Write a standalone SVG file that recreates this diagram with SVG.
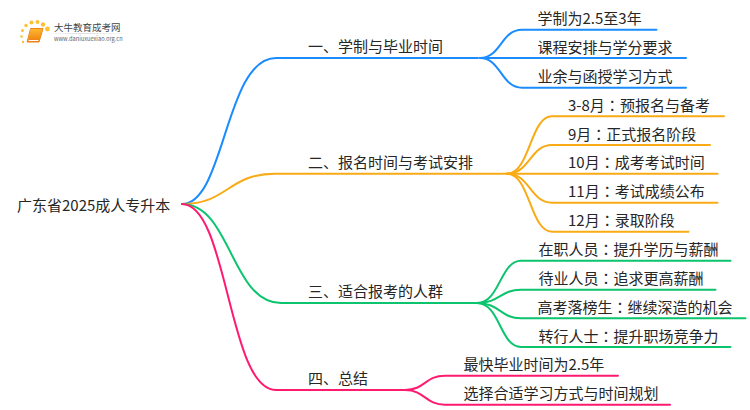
<svg xmlns="http://www.w3.org/2000/svg" width="750" height="410" viewBox="0 0 750 410">
<defs>
<linearGradient id="book" x1="0" y1="0" x2="0" y2="1"><stop offset="0" stop-color="#fdb92e"/><stop offset="1" stop-color="#ee7d10"/></linearGradient>
<linearGradient id="rule" x1="0" y1="0" x2="1" y2="0"><stop offset="0" stop-color="#ddd" stop-opacity="0"/><stop offset=".4" stop-color="#ddd"/><stop offset="1" stop-color="#ddd" stop-opacity="0"/></linearGradient>
</defs>
<style>
text{font-family:"Noto Sans CJK SC","Noto Sans",sans-serif;font-size:15px;fill:#262626}
tspan{font-family:"Noto Sans CJK TC",sans-serif}
path{fill:none;stroke-width:2;stroke-linecap:round}
.b{stroke:#1a8cff}.o{stroke:#f9ab15}.g{stroke:#0cc46e}.p{stroke:#ff1a70}
.dot{fill:#fcc232}
</style>
<rect width="750" height="410" fill="#fff"/>
<g id="logo">
<circle class="dot" cx="23" cy="42" r="1.2"/><circle class="dot" cx="21.500" cy="36.500" r="1.300"/><circle class="dot" cx="22.500" cy="30.500" r="1.500"/><circle class="dot" cx="26" cy="25.500" r="1.700"/><circle class="dot" cx="31.500" cy="22.500" r="2"/><circle class="dot" cx="37.500" cy="22" r="2"/><circle class="dot" cx="43" cy="24.500" r="2.200"/><circle class="dot" cx="47.500" cy="29" r="2.400"/>
<path d="M31 28.500H43L39 42H27.500Z" style="fill:url(#book);stroke:#ee8412;stroke-width:1"/>
<path d="M29 40.500H38" style="stroke:#fff;stroke-width:1"/>
<rect x="45" y="33" width="88" height="1" fill="url(#rule)"/>
<text x="54" y="31" style="font-size:9.500px;fill:#444">大牛教育成考网</text>
<text x="54" y="41" style="font-size:5.700px;fill:#666">www.daniuxuexiao.org.cn</text>
</g>
<g id="connectors">
<path class="b" d="M182 204C225 204 225 58 276 58H478"/>
<path class="o" d="M182 204C228 204 228 173.700 275 173.700H507"/>
<path class="g" d="M182 204C231 204 231 303 281 303H477"/>
<path class="p" d="M182 204C228 204 228 390 276 390H405"/>
<path class="b" d="M480 58C501 58 501 29.700 522 29.700H656.500"/>
<path class="b" d="M480 58H686"/>
<path class="b" d="M480 58C501 58 501 87.700 522 87.700H686"/>
<path class="o" d="M507 173.700C530 173.700 530 116.300 552 116.300H724"/>
<path class="o" d="M507 173.700C530 173.700 530 145 552 145H710"/>
<path class="o" d="M507 173.700H717.500"/>
<path class="o" d="M507 173.700C530 173.700 530 202.700 552 202.700H717.500"/>
<path class="o" d="M507 173.700C530 173.700 530 231.700 552 231.700H688.500"/>
<path class="g" d="M477 303C500 303 500 260.700 521 260.700H730.500"/>
<path class="g" d="M477 303C500 303 500 289.700 521 289.700H715.500"/>
<path class="g" d="M477 303C500 303 500 318.300 521 318.300H745.500"/>
<path class="g" d="M477 303C500 303 500 347 521 347H730.500"/>
<path class="p" d="M405 390C425 390 425 375.700 445 375.700H618"/>
<path class="p" d="M405 390C425 390 425 404.700 445 404.700H670"/>
</g>
<g id="root"><text x="17" y="211">广东省2025成人专升本</text></g>
<g id="n1"><text x="308" y="52">一、学制与毕业时间</text></g>
<g id="n2"><text x="308" y="168">二、报名时间与考试安排</text></g>
<g id="n3"><text x="308" y="297">三、适合报考的人群</text></g>
<g id="n4"><text x="308" y="384">四、总结</text></g>
<g id="n1-1"><text x="537.500" y="24">学制为2.5至3年</text></g>
<g id="n1-2"><text x="537.500" y="53">课程安排与学分要求</text></g>
<g id="n1-3"><text x="537.500" y="82">业余与函授学习方式</text></g>
<g id="n2-1"><text x="568" y="111">3-8月<tspan>：</tspan>预报名与备考</text></g>
<g id="n2-2"><text x="568" y="140">9月<tspan>：</tspan>正式报名阶段</text></g>
<g id="n2-3"><text x="568" y="168">10月<tspan>：</tspan>成考考试时间</text></g>
<g id="n2-4"><text x="568" y="197">11月<tspan>：</tspan>考试成绩公布</text></g>
<g id="n2-5"><text x="568" y="226">12月<tspan>：</tspan>录取阶段</text></g>
<g id="n3-1"><text x="538.500" y="255">在职人员<tspan>：</tspan>提升学历与薪酬</text></g>
<g id="n3-2"><text x="538.500" y="284">待业人员<tspan>：</tspan>追求更高薪酬</text></g>
<g id="n3-3"><text x="537.500" y="313">高考落榜生<tspan>：</tspan>继续深造的机会</text></g>
<g id="n3-4"><text x="538.500" y="342">转行人士<tspan>：</tspan>提升职场竞争力</text></g>
<g id="n4-1"><text x="463.500" y="370">最快毕业时间为2.5年</text></g>
<g id="n4-2"><text x="463.500" y="399">选择合适学习方式与时间规划</text></g>
</svg>
